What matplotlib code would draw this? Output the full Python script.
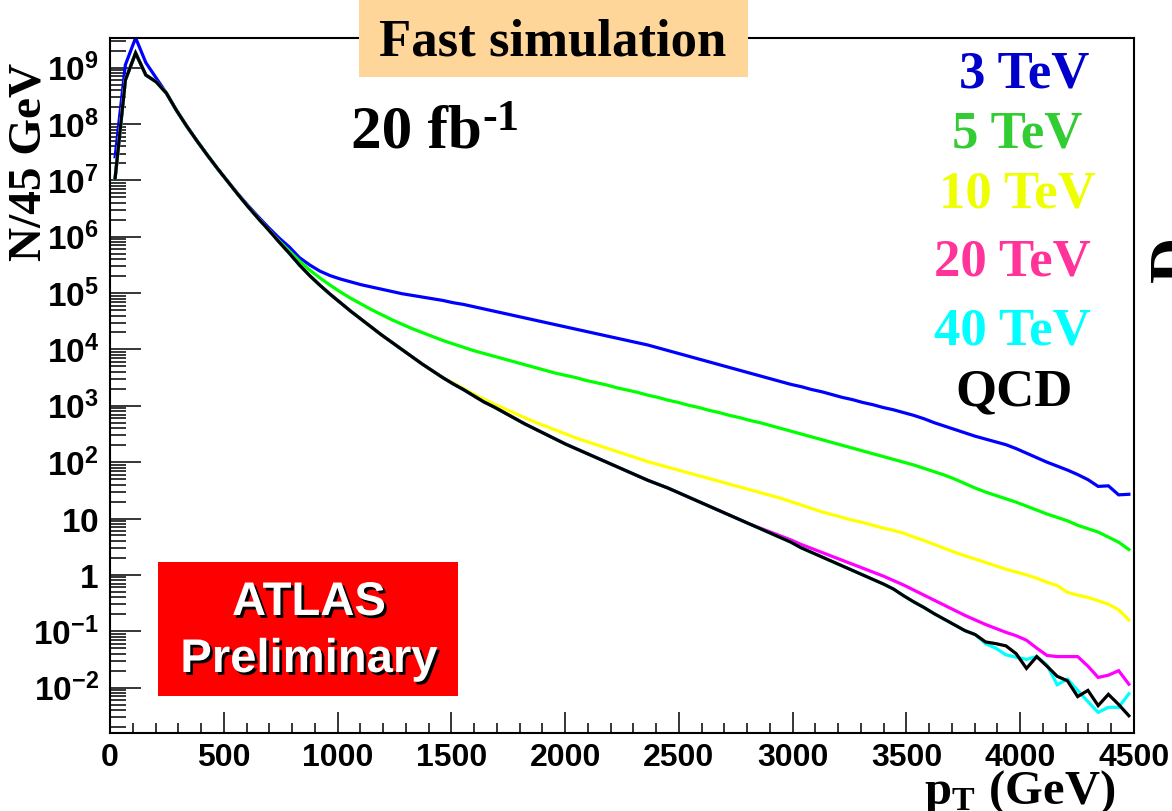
import matplotlib
matplotlib.use("Agg")
import matplotlib.pyplot as plt
import matplotlib.ticker as mticker
import matplotlib.patheffects as pe
from matplotlib.patches import Rectangle
import numpy as np

# binning: 100 bins of 45 GeV from 0 to 4500 GeV
bin_width = 45.0
n_bins = 100

# log10(N / 45 GeV), one value per bin
log_n_qcd = [
    7.04, 8.78, 9.26, 8.87, 8.75, 8.55, 8.24, 7.96, 7.70, 7.45,
    7.21, 6.98, 6.75, 6.53, 6.32, 6.12, 5.91, 5.71, 5.50, 5.31,
    5.14, 4.98, 4.83, 4.68, 4.54, 4.40, 4.26, 4.13, 4.00, 3.87,
    3.74, 3.62, 3.50, 3.39, 3.29, 3.18, 3.07, 2.98, 2.88, 2.78,
    2.68, 2.59, 2.50, 2.41, 2.32, 2.24, 2.16, 2.08, 2.00, 1.92,
    1.84, 1.76, 1.68, 1.61, 1.54, 1.46, 1.38, 1.30, 1.22, 1.14,
    1.06, 0.98, 0.90, 0.82, 0.74, 0.66, 0.58, 0.48, 0.40, 0.32,
    0.24, 0.16, 0.08, 0.00, -0.08, -0.16, -0.25, -0.37, -0.48, -0.58,
    -0.69, -0.79, -0.89, -0.99, -1.06, -1.19, -1.22, -1.26, -1.40, -1.66,
    -1.45, -1.62, -1.80, -1.88, -2.16, -2.05, -2.32, -2.12, -2.30, -2.50,
]

log_n_3tev = [
    7.42, 9.05, 9.53, 9.09, 8.82, 8.55, 8.24, 7.96, 7.70, 7.45,
    7.21, 6.98, 6.76, 6.55, 6.35, 6.16, 5.98, 5.82, 5.63, 5.50,
    5.39, 5.31, 5.25, 5.20, 5.15, 5.11, 5.07, 5.03, 4.99, 4.96,
    4.93, 4.90, 4.87, 4.83, 4.80, 4.76, 4.72, 4.68, 4.64, 4.60,
    4.56, 4.52, 4.48, 4.44, 4.40, 4.36, 4.32, 4.28, 4.24, 4.20,
    4.16, 4.12, 4.08, 4.03, 3.98, 3.93, 3.88, 3.83, 3.78, 3.73,
    3.68, 3.63, 3.58, 3.53, 3.48, 3.43, 3.38, 3.34, 3.29, 3.25,
    3.20, 3.15, 3.11, 3.06, 3.02, 2.97, 2.93, 2.88, 2.83, 2.77,
    2.70, 2.64, 2.58, 2.52, 2.46, 2.41, 2.36, 2.31, 2.24, 2.16,
    2.08, 2.00, 1.93, 1.86, 1.78, 1.69, 1.57, 1.58, 1.42, 1.43,
]

log_n_5tev = log_n_qcd[:16] + [
    5.93, 5.75, 5.57, 5.41,
    5.27, 5.14, 5.02, 4.91, 4.81, 4.71, 4.62, 4.53, 4.45, 4.37,
    4.30, 4.23, 4.16, 4.10, 4.04, 3.98, 3.93, 3.88, 3.83, 3.78,
    3.73, 3.68, 3.63, 3.58, 3.54, 3.50, 3.45, 3.41, 3.37, 3.32,
    3.28, 3.24, 3.19, 3.15, 3.10, 3.06, 3.01, 2.97, 2.92, 2.88,
    2.83, 2.79, 2.74, 2.70, 2.65, 2.60, 2.55, 2.50, 2.45, 2.40,
    2.35, 2.30, 2.25, 2.20, 2.15, 2.10, 2.05, 2.00, 1.95, 1.89,
    1.83, 1.77, 1.70, 1.62, 1.54, 1.47, 1.41, 1.35, 1.29, 1.22,
    1.15, 1.08, 1.02, 0.96, 0.88, 0.82, 0.76, 0.67, 0.58, 0.45,
]

log_n_10tev = log_n_qcd[:33] + [
    3.41, 3.31, 3.21, 3.12, 3.03, 2.95, 2.87,
    2.79, 2.71, 2.64, 2.57, 2.50, 2.43, 2.37, 2.31, 2.25, 2.19,
    2.13, 2.07, 2.01, 1.96, 1.91, 1.86, 1.81, 1.76, 1.71, 1.66,
    1.61, 1.56, 1.51, 1.46, 1.41, 1.36, 1.30, 1.24, 1.18, 1.12,
    1.07, 1.02, 0.97, 0.93, 0.88, 0.83, 0.79, 0.74, 0.67, 0.61,
    0.54, 0.47, 0.40, 0.34, 0.28, 0.22, 0.16, 0.10, 0.05, 0.00,
    -0.06, -0.13, -0.19, -0.31, -0.36, -0.40, -0.46, -0.52, -0.62, -0.80,
]

log_n_20tev = log_n_qcd[:63] + [
    0.83, 0.76, 0.69, 0.62, 0.54, 0.47, 0.40,
    0.33, 0.26, 0.19, 0.12, 0.05, -0.02, -0.10, -0.18, -0.27, -0.36,
    -0.45, -0.54, -0.63, -0.72, -0.80, -0.88, -0.95, -1.02, -1.08, -1.16,
    -1.30, -1.43, -1.45, -1.45, -1.45, -1.62, -1.82, -1.78, -1.70, -1.94,
]

log_n_40tev = log_n_qcd[:85] + [
    -1.22, -1.30, -1.42, -1.46, -1.50,
    -1.45, -1.60, -1.95, -1.85, -2.05, -2.25, -2.44, -2.35, -2.35, -2.11,
]

series = [
    ("3 TeV", log_n_3tev, "#0000ff", "#0000cc"),
    ("5 TeV", log_n_5tev, "#00ff00", "#33cc33"),
    ("10 TeV", log_n_10tev, "#ffff00", "#eeff00"),
    ("20 TeV", log_n_20tev, "#ff00ff", "#ff3399"),
    ("40 TeV", log_n_40tev, "#00ffff", "#00ffff"),
    ("QCD", log_n_qcd, "#000000", "#000000"),
]

y_ticks = [1e-2, 1e-1, 1, 10, 1e2, 1e3, 1e4, 1e5, 1e6, 1e7, 1e8, 1e9]
y_ticklabels = [r"$\mathbf{10^{-2}}$", r"$\mathbf{10^{-1}}$", r"$\mathbf{1}$",
                r"$\mathbf{10}$"] + [r"$\mathbf{10^{%d}}$" % k for k in range(2, 10)]
x_ticks = [0, 500, 1000, 1500, 2000, 2500, 3000, 3500, 4000, 4500]

plt.rcParams["mathtext.fontset"] = "custom"
plt.rcParams["mathtext.bf"] = "Liberation Sans:bold"
plt.rcParams["mathtext.rm"] = "Liberation Serif:bold"
plt.rcParams["mathtext.it"] = "Liberation Serif:bold"

W, H = 1172, 811
fig = plt.figure(figsize=(W / 100, H / 100), dpi=100)


def fx(x):
    return x / W


def fy(y):
    return 1 - y / H


ax = fig.add_axes([fx(110), fy(733), (1134 - 110) / W, (733 - 38) / H])

centres = (np.arange(n_bins) + 0.5) * bin_width
for name, logs, col, tcol in series:
    ax.plot(centres, 10.0 ** np.array(logs), color=col, lw=2.3, solid_joinstyle="miter")

ax.set_yscale("log")
ax.set_xlim(0, 4500)
ax.set_ylim(10 ** -2.806, 10 ** 9.527)

ax.yaxis.set_major_locator(mticker.FixedLocator(y_ticks))
ax.yaxis.set_major_formatter(mticker.FixedFormatter(y_ticklabels))
ax.yaxis.set_minor_locator(mticker.LogLocator(base=10, subs=np.arange(2, 10), numticks=30))
ax.yaxis.set_minor_formatter(mticker.NullFormatter())
ax.xaxis.set_major_locator(mticker.FixedLocator(x_ticks))
ax.xaxis.set_minor_locator(mticker.MultipleLocator(100))

ax.tick_params(axis="both", which="both", direction="in", top=False, right=False, width=1.1)
ax.tick_params(axis="y", which="major", length=22, pad=8, labelsize=24)
ax.tick_params(axis="y", which="minor", length=11.5)
ax.tick_params(axis="x", which="major", length=15, pad=7, labelsize=23)
ax.tick_params(axis="x", which="minor", length=7.5)
for lab in ax.get_xticklabels():
    lab.set_fontfamily("Liberation Sans")
    lab.set_fontweight("bold")
for sp in ax.spines.values():
    sp.set_linewidth(1.5)

serif = dict(family="Liberation Serif", weight="bold")

# axis titles
fig.text(fx(30), fy(162), "N/45 GeV", rotation=90, ha="center", va="center", fontsize=34, **serif)
fig.text(fx(1116), fy(804), r"$\mathrm{p_T\ (GeV)}$", ha="right", va="baseline", fontsize=35)

# "Fast simulation" banner
fig.patches.append(Rectangle((fx(359), fy(77)), (748 - 359) / W, 77 / H,
                             transform=fig.transFigure, facecolor="#ffd699",
                             edgecolor="none", zorder=5))
fig.text(fx(553), fy(55), "Fast simulation", ha="center", va="baseline",
         fontsize=38, zorder=6, **serif)

# luminosity
fig.text(fx(351), fy(148), "20 fb", ha="left", va="baseline", fontsize=44, **serif)
fig.text(fx(482), fy(130), "-1", ha="left", va="baseline", fontsize=32, **serif)

# coloured labels
label_pos = [(1024, 75), (1017, 135), (1017, 195), (1012, 263), (1012, 332), (1014, 392)]
for (name, logs, col, tcol), (lx, ly) in zip(series, label_pos):
    fig.text(fx(lx), fy(ly), name, color=tcol, ha="center", va="center", fontsize=38, **serif)

# ATLAS Preliminary box
fig.patches.append(Rectangle((fx(158), fy(696)), 300 / W, (696 - 562) / H,
                             transform=fig.transFigure, facecolor="#ff0000",
                             edgecolor="none", zorder=5))
shadow = [pe.withSimplePatchShadow(offset=(2, -2), shadow_rgbFace="black", alpha=1.0)]
for txt, ty in [("ATLAS", 603), ("Preliminary", 660)]:
    fig.text(fx(309), fy(ty), txt, color="white", ha="center", va="center",
             fontsize=34, family="Liberation Sans", weight="bold",
             path_effects=shadow, zorder=6)

# clipped letter at the right edge
fig.text(fx(1149), fy(259), "D", rotation=90, ha="left", va="center", fontsize=46, **serif)

fig.savefig("out.png", dpi=100)
